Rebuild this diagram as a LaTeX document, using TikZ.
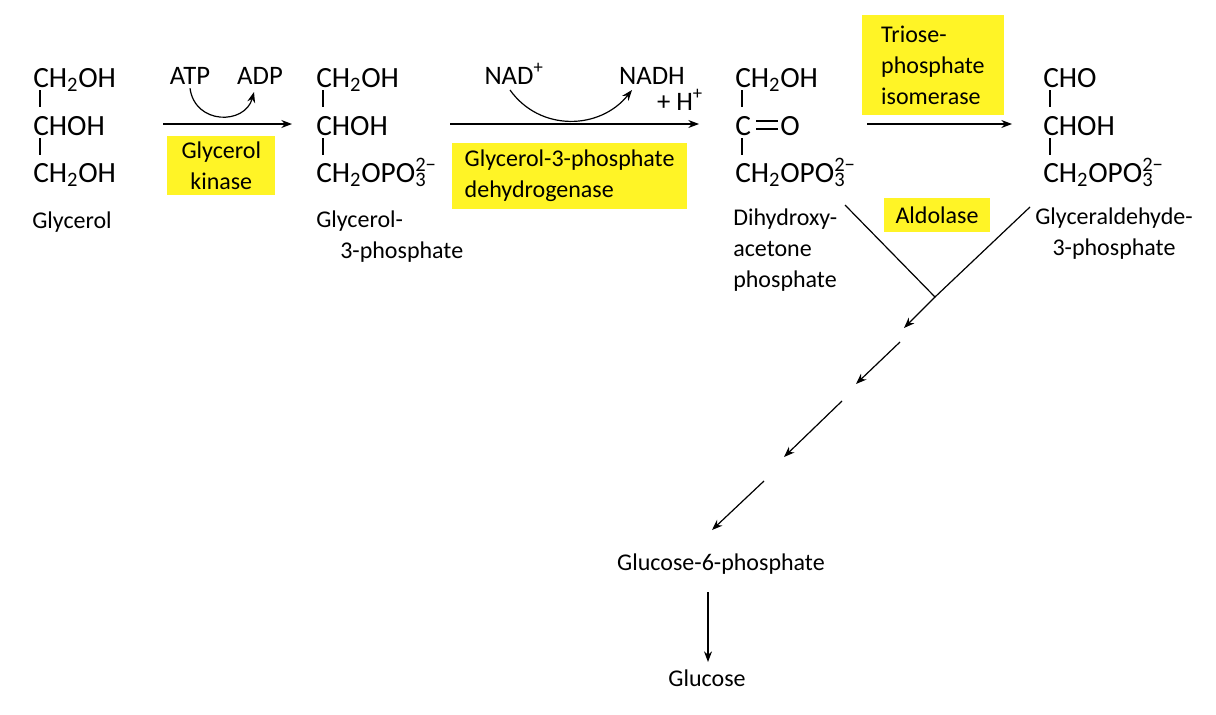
\documentclass[tikz,border=0pt]{standalone}
\usepackage{fontspec}
\setmainfont{Carlito}
\usetikzlibrary{arrows.meta}
\newcommand\sub[1]{\textsubscript{#1}}
\newcommand\pho{CH\sub{2}OPO\rlap{\sub{3}}\textsuperscript{2−}}
\begin{document}
\begin{tikzpicture}[x=0.75pt,y=-0.75pt,
  chem/.style={anchor=base west,inner sep=0,font=\fontsize{22}{24}\selectfont},
  lab/.style={inner sep=0,font=\fontsize{18}{23}\selectfont,align=left},
  enz/.style={fill=yellow!85!white,inner sep=3pt,font=\fontsize{18}{23}\selectfont},
  bond/.style={line width=0.8pt},
  arr/.style={line width=0.9pt,-{Stealth[length=8pt,width=6pt]}},
  tie/.style={line width=0.9pt}]
\useasboundingbox (0,0) rectangle (1216,714);
% Glycerol
\node[chem] (g1) at (33,87) {CH\sub{2}OH};
\node[chem] (g2) at (33,135) {CHOH};
\node[chem] (g3) at (33,182) {CH\sub{2}OH};
\draw[bond] (40,90) -- (40,107) (40,138) -- (40,155);
\node[lab,anchor=base] (gl) at (72,228) {Glycerol};
% arrow 1
\coordinate (a1s) at (163,124); \coordinate (a1e) at (292,124);
\draw[arr] (a1s) -- (a1e);
\node[lab,anchor=base,font=\fontsize{20}{23}\selectfont] (atp) at (190,84) {ATP};
\node[lab,anchor=base,font=\fontsize{20}{23}\selectfont] (adp) at (260,84) {ADP};
\draw[arr] (atp.south) ++(0,4) .. controls (195,125) and (245,125) .. (254,92);
\node[enz,align=center,anchor=north west,minimum width=81pt,minimum height=44pt] (k) at (167,136) {Glycerol\\kinase};
% G3P
\node[chem] (p1) at (316,87) {CH\sub{2}OH};
\node[chem] (p2) at (316,135) {CHOH};
\node[chem] (p3) at (316,182) {\pho};
\draw[bond] (323,90) -- (323,107) (323,138) -- (323,155);
\node[lab,align=left,anchor=north west] (pl) at (316,211) {Glycerol-\\\hspace*{1.0em}3-phosphate};
% arrow 2
\coordinate (a2s) at (450,124); \coordinate (a2e) at (699,124);
\draw[arr] (a2s) -- (a2e);
\node[lab,anchor=base,font=\fontsize{20}{23}\selectfont] (nad) at (514,84) {NAD\textsuperscript{+}};
\node[lab,anchor=base,font=\fontsize{20}{23}\selectfont] (nadh) at (652,84) {NADH};
\node[lab,anchor=base,font=\fontsize{20}{23}\selectfont] (hp) at (680,110) {+ H\textsuperscript{+}};
\draw[arr] (510,90) .. controls (540,132) and (600,130) .. (632,90);
\node[enz,align=left,anchor=north west,minimum width=176pt,minimum height=49pt] (dh) at (452,143) {Glycerol-3-phosphate\\dehydrogenase};
% DHAP
\node[chem] (d1) at (735,87) {CH\sub{2}OH};
\node[chem] (dc) at (735,135) {C};
\node[chem] (do) at (780,135) {O};
\node[chem] (d3) at (735,182) {\pho};
\draw[bond] (742,90) -- (742,107) (742,138) -- (742,155);
\coordinate (db1) at (756,121); \coordinate (db2) at (756,129);
\draw[bond] (db1) -- ++(22,0) (db2) -- ++(22,0);
\node[lab,anchor=north west] (dl) at (733,209) {Dihydroxy-\\acetone\\phosphate};
% arrow 3
\coordinate (a3s) at (867,124); \coordinate (a3e) at (1012,124);
\draw[arr] (a3s) -- (a3e);
\node[enz,align=left,anchor=north west,minimum width=106pt,minimum height=75pt,inner sep=5pt] (ti) at (862,15) {Triose-\\phosphate\\isomerase};
% GAP
\node[chem] (x1) at (1043,87) {CHO};
\node[chem] (x2) at (1043,135) {CHOH};
\node[chem] (x3) at (1043,182) {\pho};
\draw[bond] (1050,90) -- (1050,107) (1050,138) -- (1050,155);
\node[lab,align=center,anchor=north] (xl) at (1114,208) {Glyceraldehyde-\\3-phosphate};
% Aldolase
\node[enz,minimum width=80pt,minimum height=26pt] (al) at (937,215) {Aldolase};
\coordinate (j) at (935,297);
\coordinate (l1) at (845,205); \coordinate (l2) at (1030,207);
\draw[tie] (l1) -- (j) -- (l2);
\coordinate (s1) at (904,328); \coordinate (s2a) at (900,342); \coordinate (s2b) at (856,384);
\coordinate (s3a) at (842,401); \coordinate (s3b) at (784,457);
\coordinate (s4a) at (764,481);
\node[lab,anchor=base] (g6p) at (721,570) {Glucose-6-phosphate};
\node[lab,anchor=base] (glc) at (707,686) {Glucose};
\draw[arr] (j) -- (s1);
\draw[arr] (s2a) -- (s2b);
\draw[arr] (s3a) -- (s3b);
\draw[arr] (s4a) -- (712,530);
\draw[arr] (708,592) -- (708,662);
\end{tikzpicture}
\end{document}
